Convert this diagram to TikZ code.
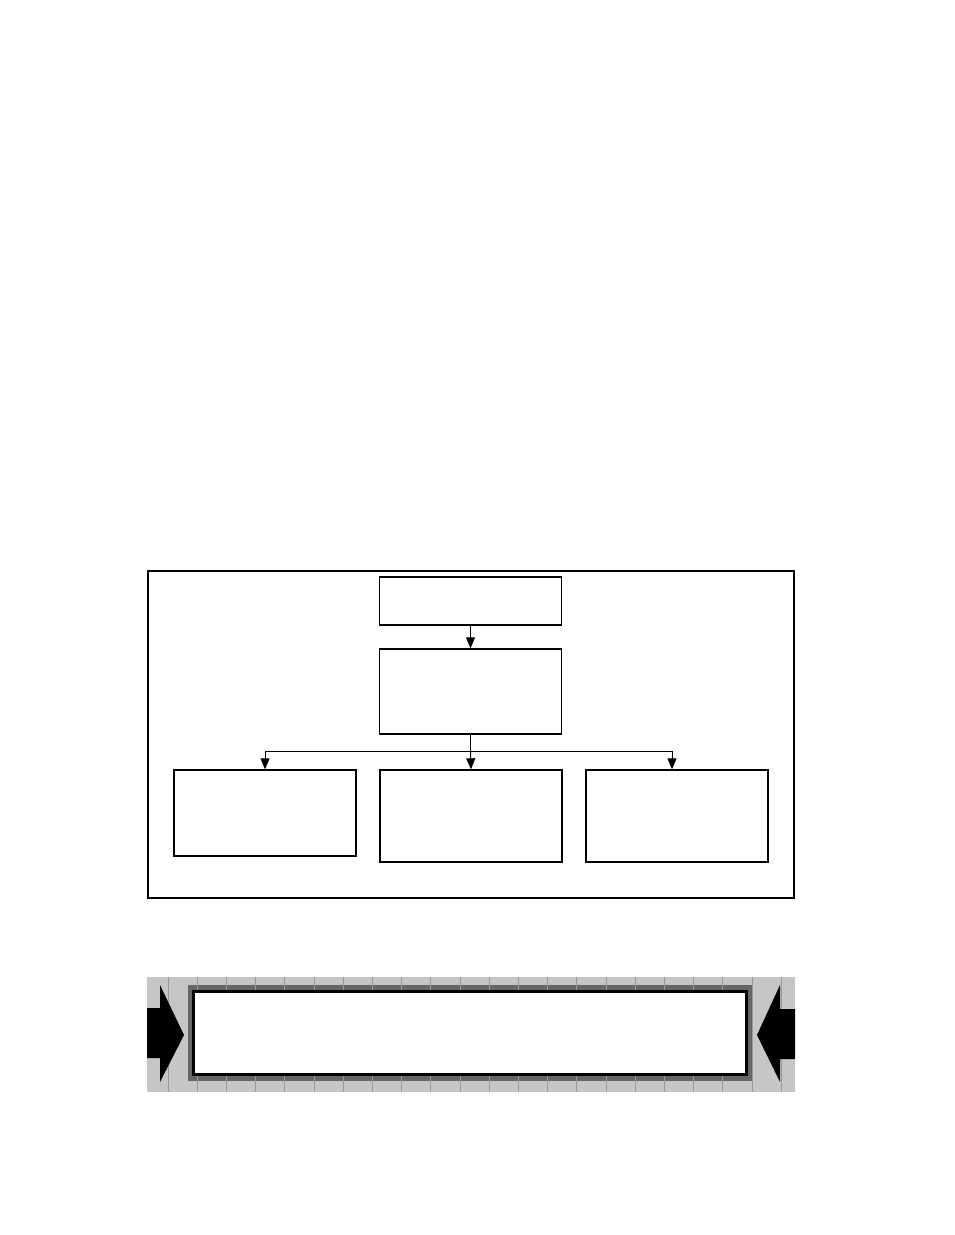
\documentclass[tikz,border=0pt]{standalone}
\usetikzlibrary{arrows.meta,positioning}

\tikzset{
  chartbox/.style={draw, rectangle, line width=1.4pt, minimum width=182pt, inner sep=0pt},
  flowline/.style={draw, line width=1pt},
  flowarrow/.style={flowline, -{Triangle[width=9pt,length=11pt]}},
  gridline/.style={draw=gray!80, line width=0.8pt},
}

\begin{document}
\begin{tikzpicture}[x=1pt, y=-1pt]
  \useasboundingbox (0,0) rectangle (954,1235);

  % frame round the chart
  \draw[line width=1.4pt] (148,571) rectangle (794,898);

  \begin{scope}[every node/.style={chartbox}]
    \node (head)   [minimum height=48pt] at (470.5,601) {};
    \node (core)   [minimum height=85pt] at (470.5,691.5) {};
    \node (branchL)[minimum height=86pt] at (265,813) {};
    \node (branchM)[minimum height=92pt] at (471,816) {};
    \node (branchR)[minimum height=92pt] at (677,816) {};
  \end{scope}

  \coordinate (busL) at (265,751);
  \coordinate (busR) at (672,751);

  \begin{scope}
    \path (head) edge[flowarrow] (core);
    \draw[flowline] (core.south) -- (core.south |- busL);
    \draw[flowline] (busL) -- (busR);
    \draw[flowarrow] (busL) -- (busL |- branchL.north);
    \draw[flowarrow] (core.south |- busL) -- (branchM.north);
    \draw[flowarrow] (busR) -- (busR |- branchR.north);
  \end{scope}

  % banner at the foot
  \fill[gray!45] (147,977) rectangle (795,1092);
  \fill[black!60] (188,985) rectangle (753,1081);
  \begin{scope}[shift={(22,9)}]
    \draw[gridline, xstep=29.2, ystep=29] (125,968) grid (773,1083);
  \end{scope}
  \node (banner) [draw, fill=white, line width=2.2pt, minimum width=553pt,
    minimum height=83pt, inner sep=0pt] at (470,1033) {};

  \fill (147,1008) -- (160,1008) -- (160,985) -- (184,1035) -- (160,1082)
    -- (160,1058) -- (147,1058) -- cycle;
  \fill (795,1009) -- (780,1009) -- (780,985) -- (757,1035) -- (780,1082)
    -- (780,1059) -- (795,1059) -- cycle;
\end{tikzpicture}
\end{document}
